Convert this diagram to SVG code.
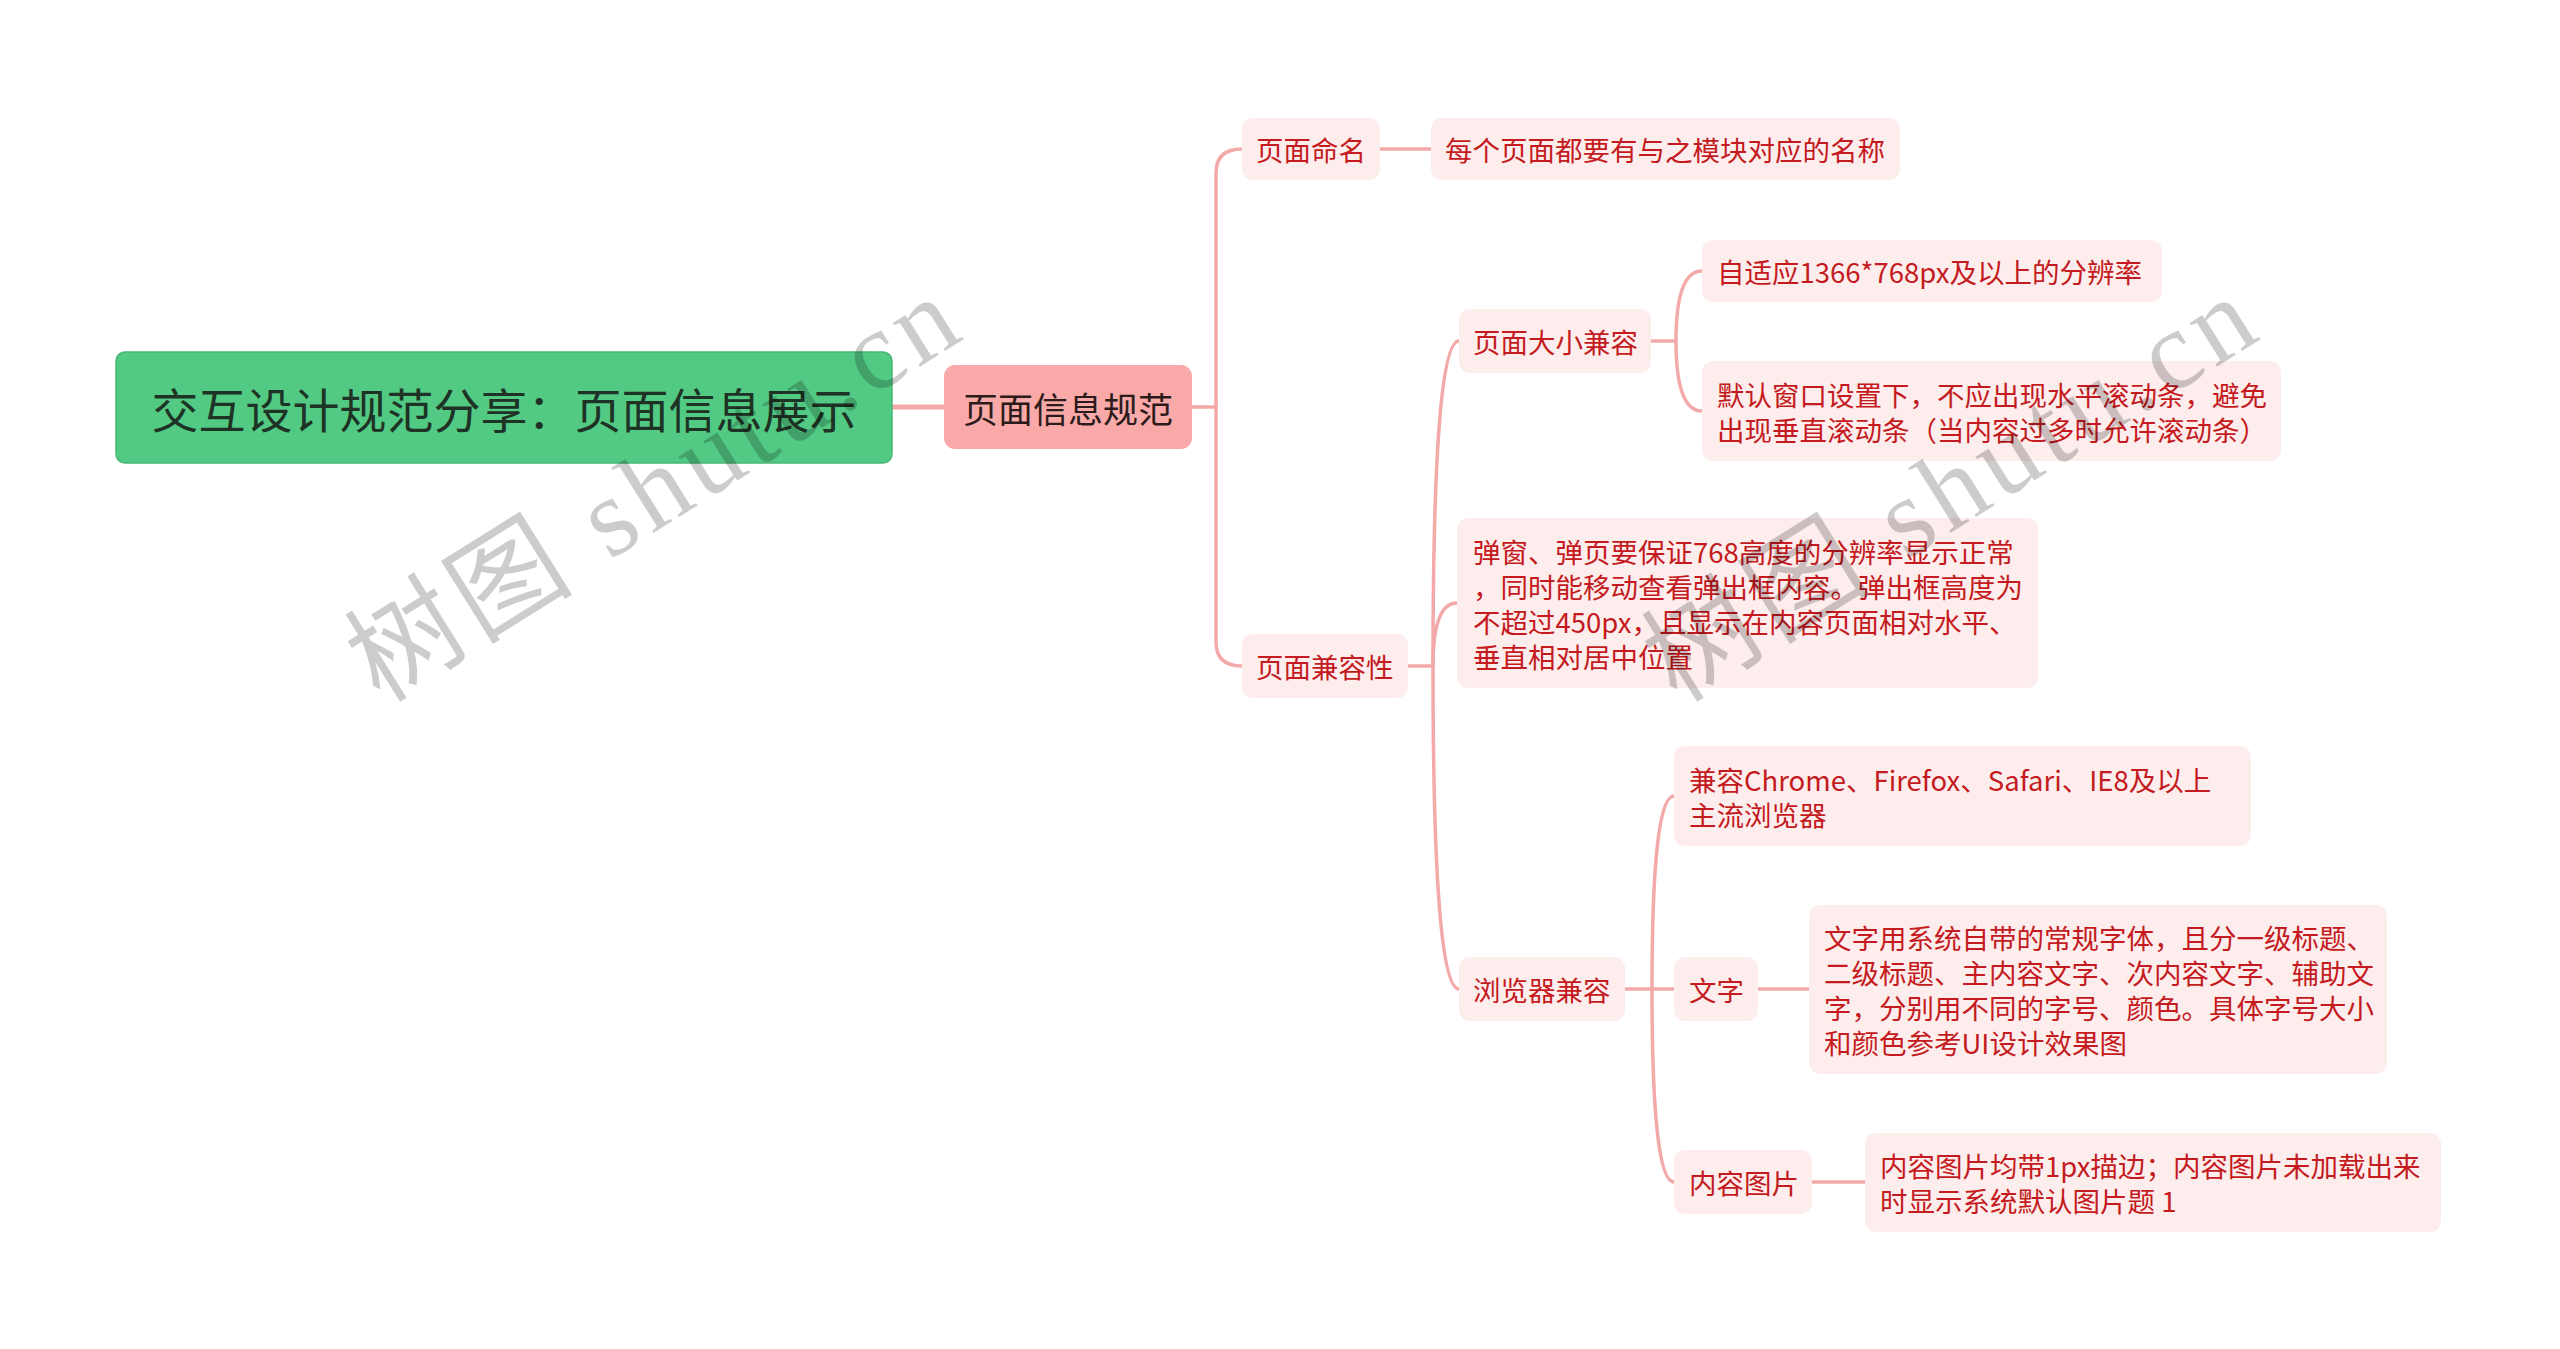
<svg xmlns="http://www.w3.org/2000/svg" width="2560" height="1349" viewBox="0 0 2560 1349">
<style>
.root{fill:#52ca83;stroke:#49b776;stroke-width:1.5}
.l1{fill:#f9aaa8}
.nb{fill:#fdeded}
.rt{font-family:"Noto Sans CJK SC","Noto Sans",sans-serif;font-size:47px;fill:#1e3325}
.t1{font-family:"Noto Sans CJK SC","Noto Sans",sans-serif;font-size:35px;fill:#2d1b1b}
.t{font-family:"Noto Sans CJK SC","Noto Sans",sans-serif;font-size:27.5px;fill:#c41a20}
.c{fill:none;stroke:#f3a9a8;stroke-width:3.5;stroke-linecap:round}
.wm{font-family:"Liberation Serif","Noto Sans CJK SC",serif;font-size:112px;fill:#000;fill-opacity:0.2}
</style>
<rect width="2560" height="1349" fill="#ffffff"/>
<g id="connectors">
<path class="c" d="M892,407 H944" style="stroke-width:5"/>
<path class="c" d="M1192,407 H1216"/>
<path class="c" d="M1216,407 V173 Q1216,149 1242,149"/>
<path class="c" d="M1216,407 V642 Q1216,666 1242,666"/>
<path class="c" d="M1380,149 H1431"/>
<path class="c" d="M1408,666 H1433"/>
<path class="c" d="M1433,666 Q1433,341 1459,341"/>
<path class="c" d="M1433,666 Q1433,603 1457,603"/>
<path class="c" d="M1433,666 Q1433,989 1459,989"/>
<path class="c" d="M1651,341 H1676"/>
<path class="c" d="M1676,341 Q1676,271 1702,271"/>
<path class="c" d="M1676,341 Q1676,411 1702,411"/>
<path class="c" d="M1625,989 H1674"/>
<path class="c" d="M1652,989 Q1652,796 1674,796"/>
<path class="c" d="M1652,989 Q1652,1182 1674,1182"/>
<path class="c" d="M1758,989 H1809"/>
<path class="c" d="M1812,1182 H1865"/>
</g>
<g id="root">
<rect class="root" x="116" y="352" width="776" height="111" rx="9"/>
<text class="rt" x="504" y="407" text-anchor="middle" dominant-baseline="central">交互设计规范分享：页面信息展示</text>
</g>
<g id="n-yemianxinxiguifan">
<rect class="l1" x="944" y="365" width="248" height="84" rx="11"/>
<text class="t1" x="1068" y="407" text-anchor="middle" dominant-baseline="central">页面信息规范</text>
</g>
<g id="n-yemianmingming">
<rect class="nb" x="1242" y="118" width="138" height="62" rx="11"/>
<text class="t" x="1256" y="149" dominant-baseline="central">页面命名</text>
</g>
<g id="n-mingcheng">
<rect class="nb" x="1431" y="118" width="469" height="62" rx="11"/>
<text class="t" x="1445" y="149" dominant-baseline="central">每个页面都要有与之模块对应的名称</text>
</g>
<g id="n-jianrongxing">
<rect class="nb" x="1242" y="634" width="166" height="64" rx="11"/>
<text class="t" x="1256" y="666" dominant-baseline="central">页面兼容性</text>
</g>
<g id="n-daxiao">
<rect class="nb" x="1459" y="309" width="192" height="64" rx="11"/>
<text class="t" x="1473" y="341" dominant-baseline="central">页面大小兼容</text>
</g>
<g id="n-zishiying">
<rect class="nb" x="1702" y="240" width="460" height="62" rx="11"/>
<text class="t" x="1717" y="271" dominant-baseline="central">自适应1366*768px及以上的分辨率</text>
</g>
<g id="n-moren">
<rect class="nb" x="1702" y="361" width="579" height="100" rx="11"/>
<text class="t" x="1717" y="394" dominant-baseline="central">默认窗口设置下，不应出现水平滚动条，避免</text>
<text class="t" x="1717" y="429" dominant-baseline="central">出现垂直滚动条（当内容过多时允许滚动条）</text>
</g>
<g id="n-tanchuang">
<rect class="nb" x="1457" y="518" width="581" height="170" rx="11"/>
<text class="t" x="1473" y="551" dominant-baseline="central">弹窗、弹页要保证768高度的分辨率显示正常</text>
<text class="t" x="1473" y="586" dominant-baseline="central">，同时能移动查看弹出框内容。弹出框高度为</text>
<text class="t" x="1473" y="621" dominant-baseline="central">不超过450px，且显示在内容页面相对水平、</text>
<text class="t" x="1473" y="656" dominant-baseline="central">垂直相对居中位置</text>
</g>
<g id="n-liulanqi">
<rect class="nb" x="1459" y="957" width="166" height="64" rx="11"/>
<text class="t" x="1473" y="989" dominant-baseline="central">浏览器兼容</text>
</g>
<g id="n-chrome">
<rect class="nb" x="1674" y="746" width="577" height="100" rx="11"/>
<text class="t" x="1689" y="779" dominant-baseline="central">兼容Chrome、Firefox、Safari、IE8及以上</text>
<text class="t" x="1689" y="814" dominant-baseline="central">主流浏览器</text>
</g>
<g id="n-wenzi">
<rect class="nb" x="1674" y="957" width="84" height="64" rx="11"/>
<text class="t" x="1689" y="989" dominant-baseline="central">文字</text>
</g>
<g id="n-wenziyong">
<rect class="nb" x="1809" y="905" width="578" height="169" rx="11"/>
<text class="t" x="1824" y="937" dominant-baseline="central">文字用系统自带的常规字体，且分一级标题、</text>
<text class="t" x="1824" y="972" dominant-baseline="central">二级标题、主内容文字、次内容文字、辅助文</text>
<text class="t" x="1824" y="1007" dominant-baseline="central">字，分别用不同的字号、颜色。具体字号大小</text>
<text class="t" x="1824" y="1042" dominant-baseline="central">和颜色参考UI设计效果图</text>
</g>
<g id="n-neirongtupian">
<rect class="nb" x="1674" y="1150" width="138" height="64" rx="11"/>
<text class="t" x="1689" y="1182" dominant-baseline="central">内容图片</text>
</g>
<g id="n-miaobian">
<rect class="nb" x="1865" y="1133" width="576" height="99" rx="11"/>
<text class="t" x="1880" y="1165" dominant-baseline="central">内容图片均带1px描边；内容图片未加载出来</text>
<text class="t" x="1880" y="1200" dominant-baseline="central">时显示系统默认图片题 1</text>
</g>
<g id="watermarks">
<text class="wm" transform="translate(380,704) rotate(-32)" textLength="690" lengthAdjust="spacing">树图 shutu.cn</text>
<text class="wm" transform="translate(1677,704) rotate(-32)" textLength="690" lengthAdjust="spacing">树图 shutu.cn</text>
</g>
</svg>
